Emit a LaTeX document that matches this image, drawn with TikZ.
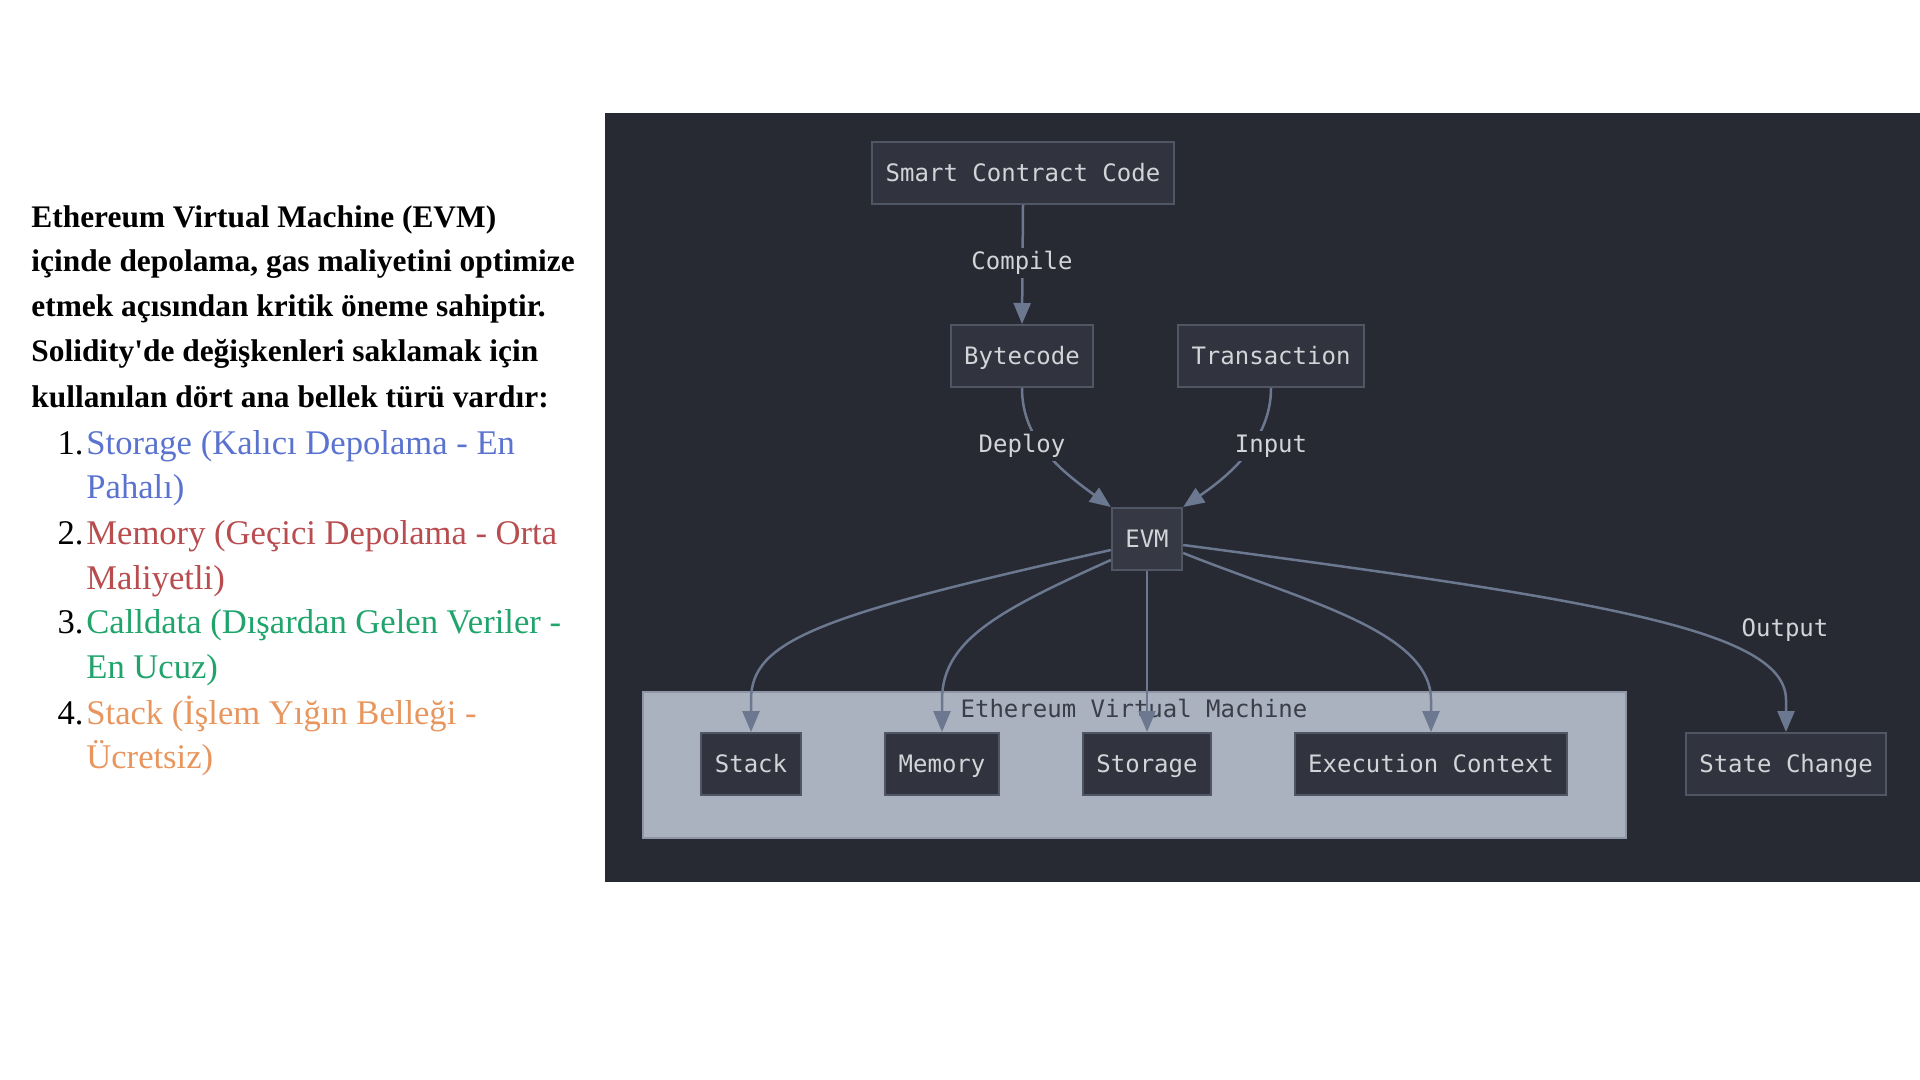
\documentclass[tikz,border=0pt]{standalone}
\usepackage{fontspec}
\setmainfont{Liberation Serif}[Ligatures=TeXOff]
\newfontfamily\monofont{DejaVu Sans Mono}
\usetikzlibrary{arrows.meta}
\definecolor{panelbg}{HTML}{272A33}
\definecolor{nodefill}{HTML}{31343E}
\definecolor{evmfill}{HTML}{363944}
\definecolor{nodeline}{HTML}{505664}
\definecolor{nodetext}{HTML}{D2D4D8}
\definecolor{edgecol}{HTML}{6C7890}
\definecolor{clusterfill}{HTML}{AAB1BF}
\definecolor{clusterline}{HTML}{8F97A6}
\definecolor{clustertext}{HTML}{3A3E48}
\definecolor{cblue}{HTML}{5A73D0}
\definecolor{cred}{HTML}{B84C4E}
\definecolor{cgreen}{HTML}{20A46C}
\definecolor{corange}{HTML}{E8965E}
\tikzset{
  box/.style={draw=nodeline, line width=1pt, fill=nodefill, text=nodetext,
    font=\monofont\fontsize{12}{14}\selectfont, inner xsep=6.75pt, inner ysep=0pt,
    text height=10.5pt, text depth=1.6pt, minimum height=31pt},
  elabel/.style={fill=panelbg, text=nodetext, font=\monofont\fontsize{12}{14}\selectfont,
    inner sep=1.5pt, text height=9pt, text depth=2.6pt},
  edge/.style={draw=edgecol, line width=1.25pt, -{Triangle[length=10.5pt,width=8.5pt]}},
  title/.style={anchor=base west, inner sep=0pt, font=\fontsize{15.7}{18}\selectfont\bfseries},
  item/.style={anchor=base west, inner sep=0pt, font=\fontsize{17.3}{20}\selectfont},
  num/.style={anchor=base east, inner sep=0pt, font=\fontsize{17.3}{20}\selectfont},
}
\begin{document}
\begin{tikzpicture}[x=0.5pt,y=-0.5pt]
\useasboundingbox (0,0) rectangle (1920,1080);
\fill[white] (0,0) rectangle (1920,1080);

% left text
\node[title] (t1) at (31,228) {Ethereum Virtual Machine (EVM)};
\node[title] (t2) at (31,272) {içinde depolama, gas maliyetini optimize};
\node[title] (t3) at (31,317) {etmek açısından kritik öneme sahiptir.};
\node[title] (t4) at (31,362) {Solidity'de değişkenleri saklamak için};
\node[title] (t5) at (31,408) {kullanılan dört ana bellek türü vardır:};

\node[num] (n1) at (84,454) {1.};
\node[item,text=cblue] (i1a) at (86,454) {Storage (Kalıcı Depolama - En};
\node[item,text=cblue] (i1b) at (86,498) {Pahalı)};
\node[num] (n2) at (84,544) {2.};
\node[item,text=cred] (i2a) at (86,544) {Memory (Geçici Depolama - Orta};
\node[item,text=cred] (i2b) at (86,589) {Maliyetli)};
\node[num] (n3) at (84,633) {3.};
\node[item,text=cgreen] (i3a) at (86,633) {Calldata (Dışardan Gelen Veriler -};
\node[item,text=cgreen] (i3b) at (86,678) {En Ucuz)};
\node[num] (n4) at (84,724) {4.};
\node[item,text=corange] (i4a) at (86,724) {Stack (İşlem Yığın Belleği -};
\node[item,text=corange] (i4b) at (86,768) {Ücretsiz)};

% panel
\fill[panelbg] (605,113) rectangle (1920,882);

% cluster
\draw[fill=clusterfill, draw=clusterline, line width=1pt] (643,692) rectangle (1626,838);
\node[text=clustertext, font=\monofont\fontsize{12}{14}\selectfont, inner sep=0pt] (cl) at (1134,708) {Ethereum Virtual Machine};

% nodes
\node[box] (scc) at (1023,173) {Smart Contract Code};
\node[box] (byte) at (1022,356) {Bytecode};
\node[box] (tx) at (1271,356) {Transaction};
\node[box, fill=evmfill] (evm) at (1147,539) {EVM};
\node[box] (stack) at (751,764) {Stack};
\node[box] (memory) at (942,764) {Memory};
\node[box] (storage) at (1147,764) {Storage};
\node[box] (exec) at (1431,764) {Execution Context};
\node[box] (state) at (1786,764) {State Change};

% edges
\draw[edge] (scc.south) -- (byte.north);
\node[elabel] (lc) at (1022,263) {Compile};
\draw[edge] (byte.south) .. controls (1022,440) and (1060,470) .. (evm.north west);
\node[elabel] (ld) at (1022,446) {Deploy};
\draw[edge] (tx.south) .. controls (1271,440) and (1230,475) .. (evm.north east);
\node[elabel] (li) at (1271,446) {Input};

\draw[edge] ([yshift=-5.5pt]evm.west) .. controls (820,615) and (751,640) .. (751,700) -- (stack.north);
\draw[edge] ([yshift=-10.5pt]evm.west) .. controls (1000,610) and (942,640) .. (942,700) -- (memory.north);
\draw[edge] (evm.south) -- (storage.north);
\draw[edge] ([yshift=-7pt]evm.east) .. controls (1300,600) and (1431,630) .. (1431,700) -- (exec.north);
\draw[edge] ([yshift=-3pt]evm.east) .. controls (1600,600) and (1786,630) .. (1786,700) -- (state.north);
\node[text=nodetext, font=\monofont\fontsize{12}{14}\selectfont, inner sep=1pt] (lo) at (1785,630) {Output};
\end{tikzpicture}
\end{document}
